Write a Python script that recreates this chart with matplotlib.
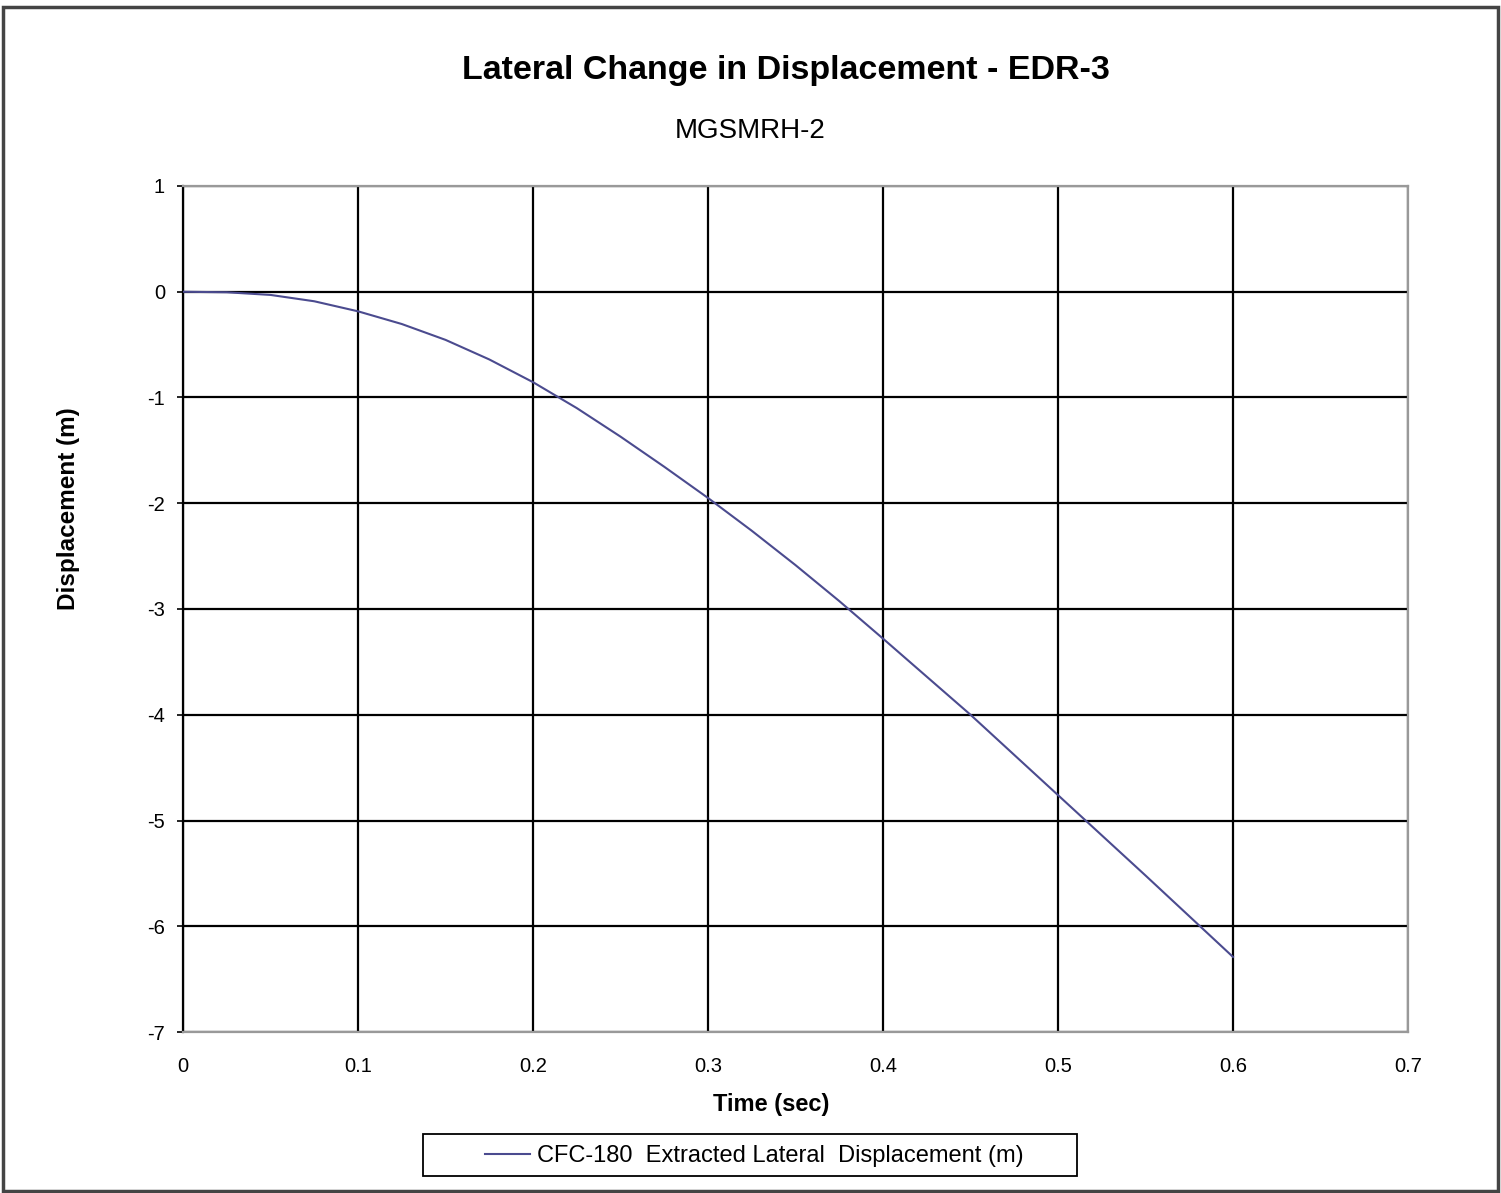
import matplotlib
matplotlib.use("Agg")
import matplotlib.pyplot as plt
from matplotlib.patches import Rectangle

tiempo = [0, 0.025, 0.05, 0.075, 0.1, 0.125, 0.15, 0.175, 0.2, 0.225, 0.25,
          0.275, 0.3, 0.325, 0.35, 0.375, 0.4, 0.425, 0.45, 0.475, 0.5,
          0.525, 0.55, 0.575, 0.6]
despl = [0, -0.005, -0.03, -0.09, -0.185, -0.305, -0.455, -0.64, -0.855, -1.10,
         -1.37, -1.655, -1.95, -2.26, -2.585, -2.925, -3.28, -3.64, -4.00, -4.38,
         -4.76, -5.14, -5.52, -5.905, -6.29]
xticks = [0, 0.1, 0.2, 0.3, 0.4, 0.5, 0.6, 0.7]
yticks = [1, 0, -1, -2, -3, -4, -5, -6, -7]
serie = "CFC-180  Extracted Lateral  Displacement (m)"

plt.rcParams["font.family"] = ["Liberation Sans", "DejaVu Sans"]

W, H = 1501, 1193
fig = plt.figure(figsize=(W / 100, H / 100), dpi=100)
ax = fig.add_axes([183 / W, 1 - 1032 / H, (1408 - 183) / W, (1032 - 186) / H])

ax.plot(tiempo, despl, color="#4b4b8f", lw=1.5, label=serie, zorder=3)

ax.set_xlim(0, 0.7)
ax.set_ylim(-7, 1)
ax.set_xticks(xticks)
ax.set_yticks(yticks)
ax.set_xticklabels([f"{v:g}" for v in xticks])
ax.set_yticklabels([f"{v:g}" for v in yticks])
ax.grid(True, color="black", lw=1.6)
ax.tick_params(axis="x", length=0, pad=18, labelsize=14.5)
ax.tick_params(axis="y", length=4, width=1.2, pad=9, labelsize=14.5)
for s in ["top", "right", "bottom"]:
    ax.spines[s].set_color("#999999")
    ax.spines[s].set_linewidth(1.6)
ax.spines["left"].set_color("black")
ax.spines["left"].set_linewidth(1.6)

fig.text(771 / W, 1 - 1104 / H, "Time (sec)", ha="center", va="center",
         fontsize=17, fontweight="bold")
fig.text(68 / W, 1 - 509 / H, "Displacement (m)", ha="center", va="center",
         rotation=90, fontsize=17.5, fontweight="bold")

fig.text(786 / W, 1 - 70 / H, "Lateral Change in Displacement - EDR-3",
         ha="center", va="center", fontsize=24.5, fontweight="bold")
fig.text(750 / W, 1 - 131 / H, "MGSMRH-2", ha="center", va="center",
         fontsize=20)

leg = fig.legend(loc="center", bbox_to_anchor=(754 / W, 1 - 1156 / H),
                 fontsize=17, frameon=False, handlelength=1.9,
                 handletextpad=0.3)

fig.patches.append(Rectangle((423 / W, 1 - 1176 / H), (1077 - 423) / W,
                             42 / H, transform=fig.transFigure, fill=False,
                             edgecolor="black", lw=1.3))
fig.patches.append(Rectangle((0.0023, 0.0017), 0.9955, 0.9925,
                             transform=fig.transFigure, fill=False,
                             edgecolor="#444444", lw=2.5))

fig.savefig("out.png", dpi=100)
